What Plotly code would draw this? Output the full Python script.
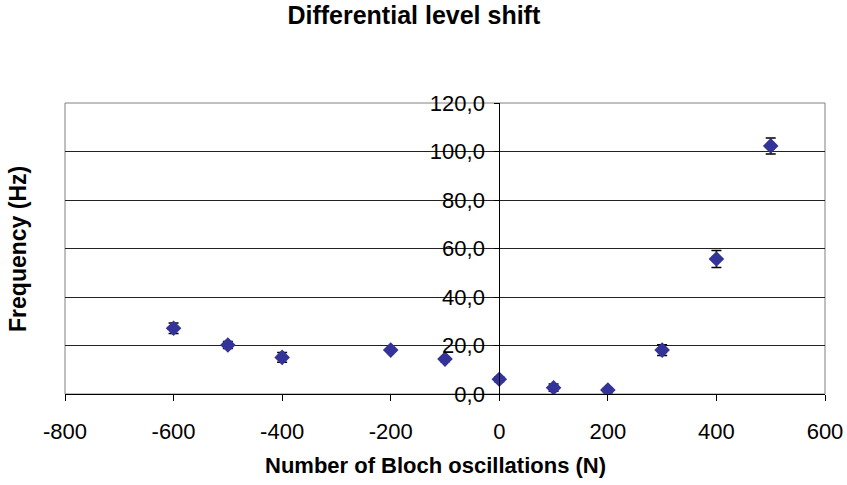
import plotly.graph_objects as go

FONT = "Liberation Sans, Arial, sans-serif"
MARKER = "#333399"

# Number of Bloch oscillations vs. measured frequency shift
n_bloch = [-600, -500, -400, -200, -100, 0, 100, 200, 300, 400, 500]
freq_hz = [27.1, 20.2, 15.1, 18.1, 14.4, 6.1, 2.6, 1.6, 18.1, 55.7, 102.3]
freq_err = [2.2, 1.4, 2.0, 0.5, 1.0, 1.0, 1.5, 1.0, 2.2, 3.5, 3.3]

x_ticks = [-800, -600, -400, -200, 0, 200, 400, 600]
x_labels = ["-800", "-600", "-400", "-200", "0", "200", "400", "600"]
y_ticks = [0, 20, 40, 60, 80, 100, 120]

fig = go.Figure(go.Scatter(
    x=n_bloch, y=freq_hz,
    mode="markers",
    marker=dict(symbol="diamond", size=12, color=MARKER),
    error_y=dict(type="data", array=freq_err, color="black", thickness=1.5, width=5),
    showlegend=False,
))

fig.update_layout(
    width=847, height=485,
    paper_bgcolor="white", plot_bgcolor="white",
    font=dict(family=FONT, size=22, color="black"),
    separators=",.",
    margin=dict(l=65, r=22, t=103, b=91),
    title=dict(text="<b>Differential level shift</b>", xref="paper", x=0.459, xanchor="center",
               y=0.968, yanchor="middle", font=dict(size=25)),
    xaxis=dict(
        range=[-800, 600], tickvals=x_ticks, ticktext=x_labels,
        showgrid=False, zeroline=False, automargin=False,
        showline=True, linecolor="black", linewidth=1,
        ticks="outside", ticklen=6, tickcolor="black", ticklabelstandoff=12,
    ),
    yaxis=dict(
        range=[0, 120], tickvals=y_ticks, tickformat=".1f", automargin=False,
        anchor="free", position=4 / 7, showline=True, linecolor="black",
        ticks="outside", ticklen=5, tickcolor="black", ticklabelstandoff=5,
        showgrid=True, gridcolor="#222", gridwidth=1, zeroline=False,
    ),
    shapes=[dict(type="rect", xref="paper", yref="paper", x0=0, x1=1, y0=0, y1=1,
                 line=dict(color="#808080", width=1), layer="below")],
    annotations=[
        dict(text="<b>Number of Bloch oscillations (N)</b>", xref="paper", yref="paper",
             x=0.488, y=-0.245, xanchor="center", yanchor="middle",
             showarrow=False, font=dict(size=22)),
        dict(text="<b>Frequency (Hz)</b>", xref="paper", yref="paper", textangle=-90,
             x=-0.062, y=0.498, xanchor="center", yanchor="middle",
             showarrow=False, font=dict(size=23)),
    ],
)

fig.write_html("out.html", config={"displayModeBar": False},
               post_script="document.body.style.margin='0';")
